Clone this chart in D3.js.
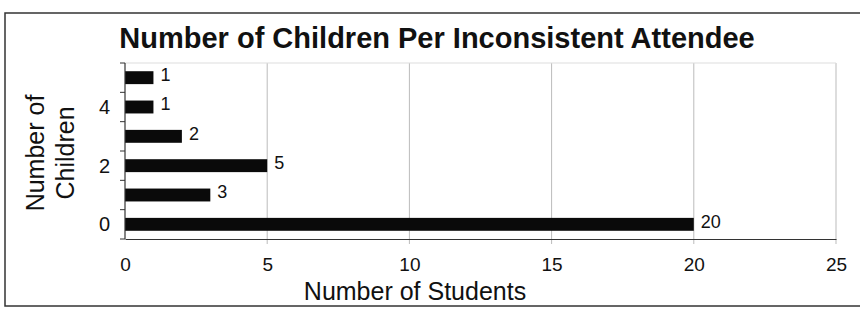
<!DOCTYPE html>
<html>
<head>
<meta charset="utf-8">
<script src="https://cdn.jsdelivr.net/npm/d3@7"></script>
<style>
  body { margin: 0; background: #fff; }
  svg text { font-family: "Liberation Sans", Arial, sans-serif; fill: #111; }
</style>
</head>
<body>
<div id="chart"></div>
<script>
// children per attendee (0 at bottom) and number of students
var children = [0, 1, 2, 3, 4, 5];
var students = [20, 3, 5, 2, 1, 1];
var xTicks = [0, 5, 10, 15, 20, 25];
var yTickLabels = [0, 2, 4];

var W = 860, H = 309;
var margin = {top: 63, right: 24, bottom: 72, left: 125};

var svg = d3.select("#chart").append("svg")
    .attr("width", W)
    .attr("height", H);

// outer frame
svg.append("rect")
    .attr("x", 5).attr("y", 13)
    .attr("width", 870).attr("height", 293)
    .attr("fill", "none")
    .attr("stroke", "#333")
    .attr("stroke-width", 1.5);

var xScale = d3.scaleLinear()
    .domain([0, 25])
    .range([margin.left, W - margin.right]);

var yScale = d3.scaleBand()
    .domain(children)
    .range([H - margin.bottom + 2, margin.top])
    .paddingInner(0.56)
    .paddingOuter(0.28);

var y0 = H - margin.bottom + 2, y1 = margin.top;

// gridlines
svg.append("g").selectAll("line")
    .data(xTicks.slice(1))
    .enter().append("line")
    .attr("x1", function(d) { return xScale(d); })
    .attr("x2", function(d) { return xScale(d); })
    .attr("y1", y1)
    .attr("y2", y0 + 5)
    .attr("stroke", "#bbb")
    .attr("stroke-width", 1);

// top faint border of plot
svg.append("line")
    .attr("x1", xScale(0)).attr("x2", xScale(25))
    .attr("y1", y1).attr("y2", y1)
    .attr("stroke", "#ddd");

// bars
svg.append("g").selectAll("rect")
    .data(children)
    .enter().append("rect")
    .attr("x", xScale(0))
    .attr("y", function(d) { return yScale(d); })
    .attr("width", function(d, i) { return xScale(students[i]) - xScale(0); })
    .attr("height", yScale.bandwidth())
    .attr("fill", "#0a0a0a");

// value labels
svg.append("g").selectAll("text")
    .data(children)
    .enter().append("text")
    .attr("x", function(d, i) { return xScale(students[i]) + 7; })
    .attr("y", function(d) { return yScale(d) + yScale.bandwidth() / 2 - 3; })
    .attr("dy", "0.35em")
    .style("font-size", "18px")
    .text(function(d, i) { return students[i]; });

// x axis
var xAxis = d3.axisBottom(xScale).tickValues(xTicks).tickSize(0).tickPadding(19);
var gx = svg.append("g")
    .attr("transform", "translate(0," + y0 + ")")
    .call(xAxis);
gx.select(".domain").attr("stroke", "#333").attr("stroke-width", 1.2);
gx.selectAll("text").style("font-size", "19px").attr("fill", "#111");

// y axis: ticks between categories
svg.append("line")
    .attr("x1", xScale(0)).attr("x2", xScale(0))
    .attr("y1", y1).attr("y2", y0)
    .attr("stroke", "#333").attr("stroke-width", 1.2);
svg.append("g").selectAll("line")
    .data(d3.range(children.length + 1))
    .enter().append("line")
    .attr("x1", xScale(0) - 5).attr("x2", xScale(0))
    .attr("y1", function(i) { return y0 - i * (y0 - y1) / children.length; })
    .attr("y2", function(i) { return y0 - i * (y0 - y1) / children.length; })
    .attr("stroke", "#333");

svg.append("g").selectAll("text")
    .data(yTickLabels)
    .enter().append("text")
    .attr("x", 110)
    .attr("y", function(d) { return yScale(d) + yScale.bandwidth() / 2; })
    .attr("dy", "0.35em")
    .attr("text-anchor", "end")
    .style("font-size", "20px")
    .text(function(d) { return d; });

// title
svg.append("text")
    .attr("x", 437).attr("y", 48)
    .attr("text-anchor", "middle")
    .style("font-size", "29px")
    .style("font-weight", "bold")
    .text("Number of Children Per Inconsistent Attendee");

// x axis title
svg.append("text")
    .attr("x", 415).attr("y", 300)
    .attr("text-anchor", "middle")
    .style("font-size", "25px")
    .text("Number of Students");

// y axis title, two lines
var yt = svg.append("text")
    .attr("transform", "translate(44,153) rotate(-90)")
    .attr("text-anchor", "middle")
    .style("font-size", "25px");
yt.append("tspan").attr("x", 0).attr("y", 0).text("Number of");
yt.append("tspan").attr("x", 0).attr("y", 30).text("Children");
</script>
</body>
</html>
